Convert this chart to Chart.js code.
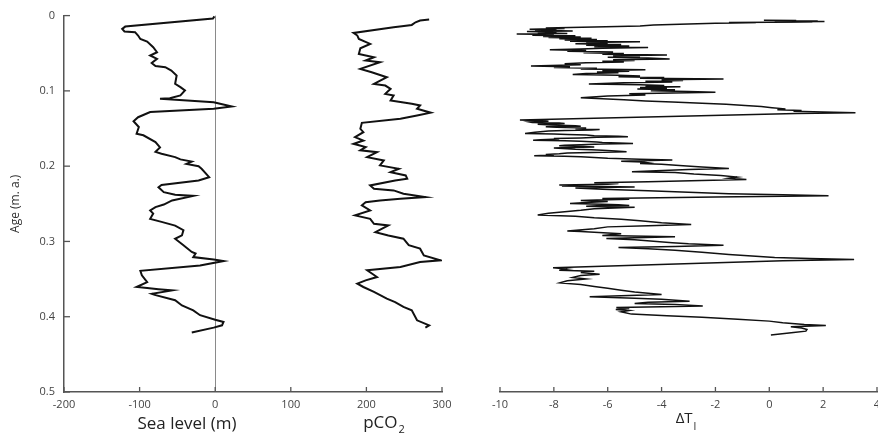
<!DOCTYPE html>
<html>
<head>
<meta charset="utf-8">
<script src="https://cdn.jsdelivr.net/npm/chart.js@4"></script>
<style>
  body { margin: 0; background: #fff; }
  #wrap { position: relative; width: 878px; height: 434px; background: #fff; overflow: hidden; }
  canvas { position: absolute; top: 0; }
  #left { left: 0; }
  #right { left: 480px; }
</style>
</head>
<body>
<div id="wrap">
  <canvas id="left" width="480" height="434"></canvas>
  <canvas id="right" width="420" height="434"></canvas>
</div>
<script>
// ages in million years
const seaAge = [0.001, 0.004, 0.0146, 0.0177, 0.021, 0.022, 0.0265, 0.031, 0.0345, 0.042, 0.0487, 0.053, 0.0575, 0.063, 0.067, 0.0686, 0.073, 0.0796, 0.0907, 0.095, 0.0995, 0.106, 0.1097, 0.1106, 0.1128, 0.115, 0.1208, 0.1238, 0.128, 0.135, 0.1403, 0.148, 0.157, 0.159, 0.168, 0.175, 0.181, 0.1836, 0.188, 0.191, 0.194, 0.197, 0.2, 0.2035, 0.2146, 0.219, 0.225, 0.228, 0.2345, 0.238, 0.2395, 0.2455, 0.251, 0.2544, 0.2588, 0.263, 0.27, 0.274, 0.279, 0.285, 0.292, 0.2965, 0.305, 0.314, 0.316, 0.3208, 0.324, 0.326, 0.332, 0.339, 0.345, 0.354, 0.3605, 0.362, 0.3635, 0.365, 0.3695, 0.371, 0.378, 0.385, 0.3915, 0.398, 0.404, 0.407, 0.4114, 0.4145, 0.421];
const seaLevel = [-1, -3, -119, -123, -120, -106, -102, -99, -90, -82, -77, -86, -77, -84, -79, -66, -58, -51, -53, -46, -40, -46, -60, -73, -37, -2, 22, -2, -86, -102, -108, -101, -104, -95, -79, -73, -79, -71, -53, -46, -31, -38, -22, -18, -8, -22, -71, -75, -68, -53, -29, -57, -68, -79, -86, -82, -86, -71, -53, -42, -44, -53, -42, -31, -26, -29, -2, 11, -20, -99, -97, -90, -104, -90, -75, -57, -84, -80, -53, -44, -29, -20, 0, 11, 9, -2, -31];

const co2Age = [0.0053, 0.0066, 0.0089, 0.0124, 0.0142, 0.0155, 0.023, 0.0265, 0.031, 0.0376, 0.0434, 0.051, 0.0553, 0.0597, 0.062, 0.0708, 0.0752, 0.0819, 0.0907, 0.0929, 0.0973, 0.104, 0.106, 0.1128, 0.1172, 0.1194, 0.1238, 0.129, 0.1327, 0.137, 0.1424, 0.1504, 0.1549, 0.1615, 0.166, 0.1703, 0.1747, 0.179, 0.1814, 0.188, 0.1924, 0.199, 0.2035, 0.208, 0.2123, 0.2167, 0.219, 0.2256, 0.23, 0.2322, 0.2366, 0.2411, 0.2433, 0.2455, 0.2478, 0.252, 0.2588, 0.2654, 0.27, 0.2765, 0.2787, 0.2876, 0.292, 0.2964, 0.305, 0.3096, 0.3185, 0.325, 0.3274, 0.334, 0.3384, 0.3473, 0.3517, 0.356, 0.3605, 0.367, 0.376, 0.3805, 0.387, 0.3915, 0.4048, 0.4115, 0.4145];
const co2 = [283, 271, 265, 260, 247, 236, 183, 188, 190, 205, 192, 190, 210, 199, 218, 192, 207, 227, 210, 225, 232, 225, 236, 232, 260, 271, 267, 285, 267, 245, 194, 192, 196, 185, 196, 183, 199, 192, 214, 201, 223, 218, 243, 232, 252, 254, 238, 205, 210, 236, 249, 278, 245, 218, 199, 194, 205, 185, 205, 210, 229, 212, 229, 249, 256, 271, 276, 298, 271, 245, 201, 214, 199, 188, 196, 210, 227, 238, 249, 260, 267, 283, 278];

const dtAge = [0.0070, 0.0074, 0.0077, 0.0080, 0.0083, 0.0086, 0.0090, 0.0094, 0.0098, 0.0103, 0.0110, 0.0120, 0.0132, 0.0145, 0.0160, 0.0172, 0.0180, 0.0188, 0.0195, 0.0203, 0.0212, 0.0220, 0.0228, 0.0236, 0.0245, 0.0252, 0.0260, 0.0268, 0.0276, 0.0284, 0.0292, 0.0300, 0.0308, 0.0316, 0.0324, 0.0332, 0.0340, 0.0348, 0.0356, 0.0364, 0.0372, 0.0380, 0.0390, 0.0400, 0.0410, 0.0420, 0.0430, 0.0440, 0.0450, 0.0462, 0.0472, 0.0482, 0.0492, 0.0502, 0.0512, 0.0522, 0.0530, 0.0540, 0.0550, 0.0560, 0.0570, 0.0582, 0.0592, 0.0602, 0.0612, 0.0622, 0.0632, 0.0645, 0.0660, 0.0675, 0.0685, 0.0695, 0.0705, 0.0715, 0.0725, 0.0735, 0.0745, 0.0755, 0.0765, 0.0775, 0.0790, 0.0800, 0.0810, 0.0820, 0.0830, 0.0840, 0.0849, 0.0858, 0.0868, 0.0878, 0.0890, 0.0900, 0.0915, 0.0925, 0.0935, 0.0945, 0.0952, 0.0962, 0.0972, 0.0982, 0.0992, 0.1005, 0.1015, 0.1026, 0.1036, 0.1046, 0.1060, 0.1075, 0.1097, 0.1110, 0.1125, 0.1140, 0.1155, 0.1170, 0.1185, 0.1200, 0.1215, 0.1230, 0.1245, 0.1255, 0.1265, 0.1275, 0.1285, 0.1296, 0.1305,
  0.1394, 0.1402, 0.141, 0.1418, 0.1425, 0.1433, 0.144, 0.145, 0.146, 0.1468, 0.1475, 0.1483, 0.149, 0.150, 0.151, 0.1518, 0.1526, 0.1533, 0.154, 0.1555, 0.157, 0.1578, 0.1585, 0.1593, 0.160, 0.1608, 0.1615, 0.1623, 0.163, 0.1638, 0.1645, 0.1653, 0.166, 0.1668, 0.1675, 0.1683, 0.169, 0.1697, 0.1703, 0.1712, 0.172, 0.1728, 0.1735, 0.1743, 0.175, 0.1758, 0.1765, 0.1773, 0.178, 0.1788, 0.1795, 0.1805, 0.1814, 0.1822, 0.183, 0.184, 0.1850, 0.1858, 0.1867, 0.1874, 0.188, 0.189, 0.190, 0.1912, 0.1924, 0.1932, 0.194, 0.195, 0.196, 0.197, 0.198, 0.199, 0.200, 0.2015, 0.2035, 0.205, 0.2065, 0.2079, 0.209, 0.211, 0.213, 0.215, 0.2165, 0.2181, 0.2195, 0.221, 0.2225, 0.2235, 0.2245, 0.2255, 0.2262, 0.2269, 0.2275, 0.228, 0.2288, 0.2295, 0.231, 0.233, 0.235, 0.237, 0.2385, 0.2398, 0.2415, 0.2433, 0.2440, 0.2445, 0.2452, 0.246, 0.2468, 0.2475, 0.2487, 0.2499, 0.2505, 0.251, 0.2518, 0.2525, 0.2530, 0.2535, 0.2542, 0.255, 0.257, 0.259, 0.2615, 0.263, 0.2654, 0.267, 0.269, 0.271, 0.273, 0.2755, 0.278, 0.2795, 0.281, 0.2835, 0.2866, 0.2873, 0.288, 0.289, 0.290, 0.291, 0.2925, 0.2942, 0.2950, 0.2955, 0.2965, 0.298, 0.300, 0.302, 0.3035, 0.3054, 0.307, 0.3084, 0.310, 0.312, 0.3145, 0.3175, 0.3200, 0.3216, 0.3228, 0.3242, 0.326,
  0.3353, 0.337, 0.3385, 0.340, 0.3415, 0.3437, 0.3455, 0.348, 0.350, 0.3525, 0.3553, 0.3575, 0.360, 0.3625, 0.365, 0.3675, 0.3707, 0.3722, 0.3738, 0.3755, 0.377, 0.3795, 0.381, 0.3825, 0.384, 0.386, 0.387, 0.3879, 0.389, 0.3905, 0.392, 0.3937, 0.3967, 0.399, 0.401, 0.4034, 0.406, 0.408, 0.4105, 0.4119, 0.4136, 0.415, 0.417, 0.4193, 0.421, 0.4243];
const dtVal = [-0.2, 1.0, 0.2, 1.8, 0.4, 2.05, 0.8, 1.6, -1.5, -0.5, -2.0, -3.0, -4.3, -4.8, -6.5, -8.3, -7.6, -8.9, -7.9, -8.7, -7.3, -9.0, -7.9, -8.6, -7.5, -9.38, -8.0, -8.8, -7.2, -8.4, -7.0, -8.2, -6.6, -7.8, -6.4, -7.6, -6.0, -7.4, -4.8, -6.8, -6.0, -7.2, -5.5, -6.8, -5.2, -6.5, -4.5, -6.2, -7.0, -8.15, -6.8, -7.5, -5.8, -6.9, -5.4, -6.2, -3.8, -5.8, -4.8, -6.0, -4.5, -3.7, -5.8, -5.0, -6.2, -5.4, -6.8, -7.6, -7.0, -8.85, -7.4, -8.0, -6.4, -7.0, -4.6, -6.2, -5.2, -6.4, -5.6, -6.8, -7.3, -5.6, -4.8, -5.6, -3.9, -4.8, -1.7, -4.0, -3.2, -4.6, -3.6, -5.4, -6.7, -4.8, -3.9, -4.6, -3.3, -4.8, -3.8, -4.9, -3.5, -4.4, -3.0, -2.0, -3.6, -5.2, -4.6, -6.0, -7.0, -6.2, -5.4, -4.6, -3.6, -2.5, -1.6, -0.9, -0.3, 0.1, 0.6, 0.3, 1.2, 0.9, 2.0, 3.2, 1.0,
  -9.26, -8.4, -8.2, -8.9, -8.8, -7.8, -7.6, -8.6, -8.1, -7.2, -7.0, -8.3, -7.9, -6.8, -7.2, -6.3, -6.6, -7.6, -8.2, -8.7, -9.07, -8.0, -7.5, -6.8, -6.5, -5.6, -5.25, -6.4, -7.0, -8.0, -7.8, -8.5, -8.77, -7.6, -7.0, -6.4, -6.2, -5.6, -5.06, -6.2, -7.0, -7.6, -7.8, -6.9, -6.5, -7.4, -8.0, -7.5, -7.2, -6.6, -6.2, -5.7, -5.3, -6.6, -7.5, -7.8, -8.3, -8.0, -8.73, -7.6, -7.0, -6.5, -6.0, -4.8, -3.6, -4.8, -5.5, -4.7, -4.5, -4.8, -4.0, -3.6, -3.2, -2.5, -1.5, -3.0, -4.2, -5.1, -3.5, -2.8, -1.8, -1.2, -1.5, -0.85, -2.5, -4.5, -6.5, -5.6, -6.0, -7.8, -7.0, -7.7, -6.2, -5.0, -6.5, -7.2, -6.2, -4.5, -3.0, -1.5, 0.5, 2.2, -2.0, -6.2, -5.6, -5.2, -6.4, -7.0, -6.2, -6.0, -6.8, -7.4, -6.6, -6.2, -5.6, -5.2, -6.4, -6.8, -6.0, -5.0, -6.5, -7.0, -7.8, -8.2, -8.6, -7.2, -6.5, -5.5, -4.8, -4.0, -2.9, -4.5, -6.0, -6.5, -7.5, -7.0, -6.5, -6.0, -5.5, -5.8, -6.2, -3.5, -4.6, -5.0, -6.05, -5.0, -4.3, -3.6, -3.0, -1.7, -3.5, -5.6, -4.5, -3.5, -2.5, -1.5, -0.5, 0.2, 1.5, 3.15, 0.5,
  -8.03, -7.5, -7.8, -6.5, -7.0, -6.3, -7.0, -7.3, -6.8, -7.5, -7.78, -7.0, -6.5, -6.0, -5.5, -5.0, -4.0, -5.5, -6.67, -5.0, -4.0, -2.96, -4.5, -5.0, -3.5, -2.47, -4.0, -5.68, -5.2, -5.7, -5.2, -5.5, -5.12, -3.8, -2.5, -1.17, 0.0, 0.5, 1.3, 2.1, 0.8, 1.2, 1.4, 1.36, 0.9, 0.06];

const FONT = '"Open Sans", "DejaVu Sans", sans-serif';
const AXIS = '#555';

function pts(xs, ys){
    return xs.map((v, i) => ({x: v, y: ys[i]}));
}

// inward tick marks plus the under-axis labels with subscripts
const axisDecor = {
    id: 'axisDecor',
    afterDraw(chart, args, opts){
        const ctx = chart.ctx;
        ctx.save();
        ctx.strokeStyle = AXIS;
        ctx.lineWidth = 1.3;
        const xs = chart.scales.x;
        for (let t of xs.ticks){
            const px = xs.getPixelForValue(t.value);
            ctx.beginPath();
            ctx.moveTo(px, xs.top);
            ctx.lineTo(px, xs.top - 5);
            ctx.stroke();
        }
        const ys = chart.scales.y;
        if (ys.options.display){
            for (let t of ys.ticks){
                const py = ys.getPixelForValue(t.value);
                ctx.beginPath();
                ctx.moveTo(ys.right, py);
                ctx.lineTo(ys.right + 6, py);
                ctx.stroke();
            }
        }
        ctx.fillStyle = '#222';
        ctx.textBaseline = 'alphabetic';
        ctx.textAlign = 'left';
        for (let lab of opts.labels || []){
            const main = lab.size + 'px ' + FONT;
            const small = lab.subSize + 'px ' + FONT;
            ctx.font = main;
            const w1 = ctx.measureText(lab.text).width;
            ctx.font = small;
            const w2 = lab.sub ? ctx.measureText(lab.sub).width + 1 : 0;
            const x0 = lab.x - (w1 + w2) / 2;
            ctx.font = main;
            ctx.fillText(lab.text, x0, lab.y);
            if (lab.sub){
                ctx.font = small;
                ctx.fillText(lab.sub, x0 + w1 + 1, lab.y + lab.drop);
            }
        }
        ctx.restore();
    }
};

const tickFont = {family: FONT, size: 11};

new Chart(document.getElementById('left'), {
    type: 'scatter',
    data: {
        datasets: [
            {label: 'Sea level', data: pts(seaLevel, seaAge), showLine: true, borderColor: '#111', borderWidth: 2, pointRadius: 0, tension: 0},
            {label: 'pCO2', data: pts(co2, co2Age), showLine: true, borderColor: '#111', borderWidth: 2, pointRadius: 0, tension: 0}
        ]
    },
    options: {
        responsive: false,
        animation: false,
        layout: {autoPadding: false, padding: {left: 0, right: 38, top: 15, bottom: 0}},
        plugins: {
            legend: {display: false},
            tooltip: {enabled: false},
            axisDecor: {labels: [
                {text: 'Sea level (m)', x: 187, y: 429, size: 17},
                {text: 'pCO', sub: '2', x: 384, y: 428, size: 17, subSize: 11, drop: 5}
            ]}
        },
        scales: {
            x: {
                type: 'linear', min: -200, max: 300,
                ticks: {stepSize: 100, padding: 6, font: tickFont, color: '#444'},
                grid: {color: c => (c.tick && c.tick.value === 0) ? '#8a8a8a' : 'rgba(0,0,0,0)', lineWidth: 1, drawTicks: false},
                border: {color: AXIS, width: 1.5},
                afterFit: s => { s.height = 42; }
            },
            y: {
                type: 'linear', reverse: true, min: 0, max: 0.5,
                ticks: {stepSize: 0.1, padding: 9, font: tickFont, color: '#444'},
                title: {display: true, text: 'Age (m. a.)', font: {family: FONT, size: 12}, color: '#333', padding: {top: 8, bottom: 0}},
                grid: {color: 'rgba(0,0,0,0)', drawTicks: false},
                border: {color: AXIS, width: 1.5},
                afterFit: s => { s.width = 64; }
            }
        }
    },
    plugins: [axisDecor]
});

new Chart(document.getElementById('right'), {
    type: 'scatter',
    data: {
        datasets: [
            {label: 'dT', data: pts(dtVal, dtAge), showLine: true, borderColor: '#111', borderWidth: 1.5, pointRadius: 0, tension: 0}
        ]
    },
    options: {
        responsive: false,
        animation: false,
        layout: {autoPadding: false, padding: {left: 20, right: 23, top: 15, bottom: 0}},
        plugins: {
            legend: {display: false},
            tooltip: {enabled: false},
            axisDecor: {labels: [{text: 'ΔT', sub: 'I', x: 206, y: 423, size: 15, subSize: 10, drop: 7}]}
        },
        scales: {
            x: {
                type: 'linear', min: -10, max: 4,
                ticks: {stepSize: 2, padding: 6, font: tickFont, color: '#444'},
                grid: {color: 'rgba(0,0,0,0)', drawTicks: false},
                border: {color: AXIS, width: 1.5},
                afterFit: s => { s.height = 42; }
            },
            y: {type: 'linear', reverse: true, min: 0, max: 0.5, display: false}
        }
    },
    plugins: [axisDecor]
});
</script>
</body>
</html>
